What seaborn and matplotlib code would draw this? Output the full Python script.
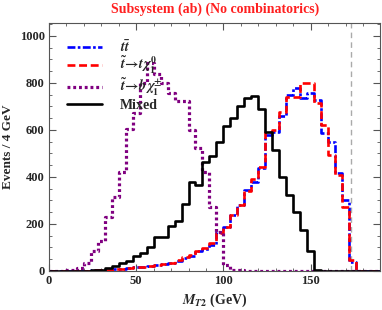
import numpy as np
import pandas as pd
import matplotlib
matplotlib.use("Agg")
import matplotlib.pyplot as plt
import seaborn as sns
from matplotlib.ticker import MultipleLocator

# ---------------- data (events per 4 GeV bin, bins from 0 to 192 GeV) ----------------
bin_width = 4
bin_range = (0, 192)

ttbar = [0, 0, 0, 0, 0, 1, 2, 3, 5, 7, 9, 12, 15, 18, 22, 26,
         30, 34, 44, 56, 64, 84, 94, 110, 165, 186, 236, 282, 345, 380,
         440, 580, 593, 657, 749, 777, 735, 756, 728, 586, 550, 416,
         302, 40, 0, 0, 0, 0]

stop_t = [0, 0, 0, 0, 0, 1, 2, 3, 5, 7, 9, 12, 15, 18, 22, 26,
          30, 34, 45, 58, 66, 86, 96, 118, 160, 189, 236, 280, 340, 390,
          444, 593, 600, 678, 742, 742, 799, 799, 714, 621, 494, 409,
          274, 45, 0, 0, 0, 0]

stop_b = [0, 0, 2, 5, 11, 33, 86, 129, 228, 316, 420, 603, 674, 800, 886, 838,
          799, 759, 725, 725, 600, 522, 420, 274, 167, 25, 5, 2, 1, 0,
          0, 0, 0, 0, 0, 0, 0, 0, 0, 0, 0, 0,
          0, 0, 0, 0, 0, 0]

mixed = [0, 0, 0, 0, 0, 0, 2, 5, 11, 20, 33, 44, 62, 78, 103, 146,
         146, 193, 212, 285, 380, 364, 465, 490, 549, 618, 650, 703, 735, 746,
         690, 589, 515, 399, 323, 252, 174, 86, 3, 0, 0, 0,
         0, 0, 0, 0, 0, 0]

labels = [r"$t\bar{t}$",
          r"$\tilde{t}\!\rightarrow\! t\,\chi^{0}_{1}$",
          r"$\tilde{t}\!\rightarrow\! b\,\chi^{\pm}_{1}$",
          "Mixed"]
title = "Subsystem (ab) (No combinatorics)"
xlabel = r"$M_{T2}$ (GeV)"
ylabel = "Events / 4 GeV"
top_mass = 173

# ---------------- styling ----------------
sns.set_theme(style="white")
plt.rcParams["font.family"] = ["Liberation Serif", "DejaVu Serif"]
plt.rcParams["mathtext.fontset"] = "stix"
plt.rcParams["font.weight"] = "bold"

fig = plt.figure(figsize=(3.82, 3.10), dpi=100)
ax = fig.add_axes([0.128, 0.126, 0.868, 0.800])

nb = len(ttbar)
centers = bin_range[0] + bin_width * (np.arange(nb) + 0.5)

series = [
    (ttbar, labels[0], "#0000ff", (0, (3.0, 0.9, 1.0, 0.9)), 1.9),
    (stop_t, labels[1], "#ff0000", (0, (3.0, 1.4)), 1.9),
    (stop_b, labels[2], "#800080", (0, (0.9, 0.9)), 2.3),
    (mixed, labels[3], "#000000", "-", 1.9),
]

for vals, lab, col, ls, lw in series:
    df = pd.DataFrame({"x": centers, "w": np.asarray(vals, dtype=float)})
    sns.histplot(data=df, x="x", weights="w", binwidth=bin_width,
                 binrange=bin_range, element="step",
                 fill=False, color=col, linestyle=ls, linewidth=lw,
                 label=lab, ax=ax)

ax.axvline(top_mass, color="#aaaaaa", linestyle=(0, (4, 3)), linewidth=1.0, zorder=0)

ax.set_xlim(0, 190)
ax.set_ylim(0, 1055)
ax.xaxis.set_major_locator(MultipleLocator(50))
ax.xaxis.set_minor_locator(MultipleLocator(10))
ax.yaxis.set_major_locator(MultipleLocator(200))
ax.yaxis.set_minor_locator(MultipleLocator(50))
ax.tick_params(which="both", direction="in", top=True, right=True,
               bottom=True, left=True, color="#555555")
ax.tick_params(which="major", length=5, width=0.8, labelsize=9, pad=3)
ax.tick_params(which="minor", length=2.5, width=0.6)
for lab in ax.get_xticklabels() + ax.get_yticklabels():
    lab.set_fontweight("bold")
for sp in ax.spines.values():
    sp.set_color("#555555")
    sp.set_linewidth(0.8)

ax.set_xlabel(xlabel, fontsize=10, fontweight="bold", labelpad=3)
ax.set_ylabel(ylabel, fontsize=9.5, fontweight="bold", labelpad=4)
ax.set_title(title, color="#ff2020", fontsize=10, fontweight="bold", pad=7)

leg = ax.legend(loc="upper left", frameon=False, fontsize=10,
                handlelength=2.5, handletextpad=1.3, labelspacing=0.05,
                borderaxespad=0.3, bbox_to_anchor=(0.025, 0.975))
for t in leg.get_texts():
    t.set_fontweight("bold")

fig.savefig("out.png", dpi=100)
